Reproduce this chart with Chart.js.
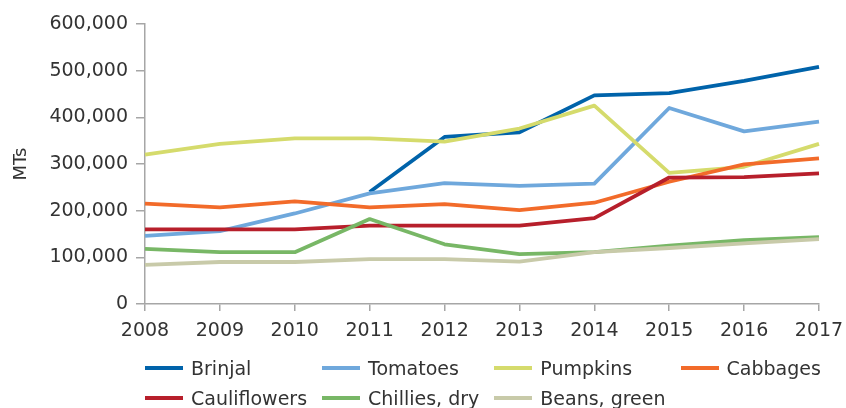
<!DOCTYPE html>
<html>
<head>
<meta charset="utf-8">
<script src="https://cdn.jsdelivr.net/npm/chart.js@4"></script>
<style>
  html, body { margin: 0; padding: 0; background: #ffffff; }
  #wrap { position: relative; width: 846px; height: 408px; }
  #legend {
    position: absolute; left: 145px; top: 353px;
    display: grid; grid-template-columns: repeat(4, auto); column-gap: 15px;
    font-family: "DejaVu Sans", sans-serif; font-size: 19px; color: #333333;
  }
  .item { display: flex; align-items: center; height: 30px; white-space: nowrap; }
  .sw { width: 38px; height: 4px; margin-right: 8px; }
</style>
</head>
<body>
<div id="wrap">
  <canvas id="c" width="846" height="408"></canvas>
  <div id="legend"></div>
</div>
<script>
const years = ["2008","2009","2010","2011","2012","2013","2014","2015","2016","2017"];
const seriesNames = ["Brinjal","Tomatoes","Pumpkins","Cabbages","Cauliflowers","Chillies, dry","Beans, green"];
const brinjal      = [null, null, null, 240000, 358000, 368000, 447000, 452000, 478000, 508000];
const tomatoes     = [146000, 156000, 194000, 237000, 259000, 253000, 258000, 420000, 370000, 391000];
const pumpkins     = [320000, 343000, 355000, 355000, 348000, 376000, 425000, 281000, 294000, 343000];
const cabbages     = [215000, 207000, 220000, 207000, 214000, 201000, 217000, 262000, 299000, 312000];
const cauliflowers = [160000, 160000, 160000, 168000, 168000, 168000, 184000, 271000, 272000, 280000];
const chillies     = [118000, 111000, 111000, 182000, 128000, 107000, 111000, 125000, 137000, 143000];
const beans        = [84000, 90000, 90000, 96000, 96000, 91000, 111000, 120000, 130000, 139000];
const yTicks = [0, 100000, 200000, 300000, 400000, 500000, 600000];

const seriesValues = [brinjal, tomatoes, pumpkins, cabbages, cauliflowers, chillies, beans];
const colors = ["#0063aa", "#6fa8dc", "#d5db6c", "#f26b2a", "#b71f2b", "#78b766", "#c8caa9"];

const datasets = seriesNames.map((name, i) => ({
  label: name,
  data: seriesValues[i],
  borderColor: colors[i],
  backgroundColor: colors[i],
  borderWidth: 3.8,
  pointRadius: 0,
  tension: 0,
  fill: false,
  borderJoinStyle: 'round',
  order: seriesNames.length - i
}));

const axisColor = "#a6a6a6";
const textColor = "#333333";

new Chart(document.getElementById('c'), {
  type: 'line',
  data: { labels: years, datasets: datasets },
  options: {
    responsive: false,
    animation: false,
    layout: { padding: { top: 24, right: 27, bottom: 0, left: 0 } },
    plugins: { legend: { display: false }, tooltip: { enabled: false } },
    scales: {
      x: {
        offset: false,
        grid: { display: true, drawOnChartArea: false, drawTicks: true, tickLength: 7, color: axisColor, lineWidth: 1.5 },
        border: { display: true, color: axisColor, width: 1.5 },
        ticks: { color: textColor, font: { family: "DejaVu Sans", size: 19 }, padding: 9, maxRotation: 0, autoSkip: false },
        afterFit: (s) => { s.height = 104; s.paddingRight = 24; s.paddingLeft = 24; }
      },
      y: {
        min: 0, max: 600000,
        afterBuildTicks: (s) => { s.ticks = yTicks.map(v => ({ value: v })); },
        grid: { display: true, drawOnChartArea: false, drawTicks: true, tickLength: 9, color: axisColor, lineWidth: 1.5 },
        border: { display: true, color: axisColor, width: 1.5 },
        ticks: { color: textColor, font: { family: "DejaVu Sans", size: 19 }, padding: 8,
                 callback: (v) => Number(v).toLocaleString('en-US') },
        title: { display: true, text: "MTs", color: textColor, font: { family: "DejaVu Sans", size: 18 }, padding: { top: 11, bottom: 0 } },
        afterFit: (s) => { s.width = 145; }
      }
    }
  }
});

const legend = document.getElementById('legend');
seriesNames.forEach((name, i) => {
  const it = document.createElement('div'); it.className = 'item';
  const sw = document.createElement('span'); sw.className = 'sw'; sw.style.background = colors[i];
  const tx = document.createElement('span'); tx.textContent = name;
  it.appendChild(sw); it.appendChild(tx); legend.appendChild(it);
});
</script>
</body>
</html>
